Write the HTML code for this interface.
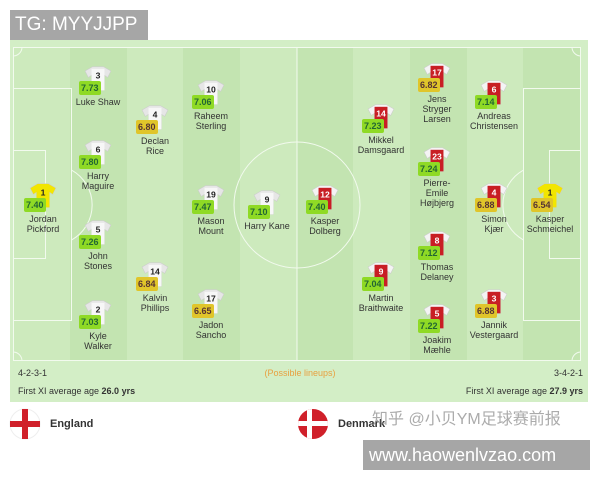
<!DOCTYPE html>
<html><head><meta charset="utf-8"><style>
body{margin:0;width:600px;height:480px;background:#fff;position:relative;overflow:hidden;font-family:"Liberation Sans","Noto Sans CJK SC",sans-serif}
.a{position:absolute}
.tg{left:10px;top:10px;width:138px;height:30px;background:#a6a6a6;color:#fff;font-size:19px;line-height:30px;padding-left:5px;box-sizing:border-box}
.field{left:10px;top:40px;width:578px;height:362px;background:#d3eec6}
.st{top:47px;height:314px;width:57px}
.p{position:absolute;width:80px;text-align:center}
.sh{position:absolute}
.r{position:absolute;font-size:9px;font-weight:bold;color:#263;padding:0 2px;height:14px;line-height:14px;border-radius:2px;background:#8fda25}
.r.y{background:#e0c52a;color:#533}
.n{position:absolute;width:90px;text-align:center;font-size:9px;line-height:10px;color:#333}
.txt{font-size:9px;color:#333}
</style></head><body>
<div class="a tg">TG: MYYJJPP</div>
<div class="a field"></div>
<div class="a st" style="left:13px;background:#cdeabd"></div>
<div class="a st" style="left:70px;background:#c3e4b1"></div>
<div class="a st" style="left:127px;background:#cdeabd"></div>
<div class="a st" style="left:183px;background:#c3e4b1"></div>
<div class="a st" style="left:240px;background:#cdeabd"></div>
<div class="a st" style="left:297px;background:#c3e4b1"></div>
<div class="a st" style="left:353px;background:#cdeabd"></div>
<div class="a st" style="left:410px;background:#c3e4b1"></div>
<div class="a st" style="left:467px;background:#cdeabd"></div>
<div class="a st" style="left:523px;background:#c3e4b1;width:57px"></div>
<svg class="a" style="left:0;top:0" width="600" height="480">
<g fill="none" stroke="#f2faee" stroke-width="1">
<rect x="13.5" y="47.5" width="567" height="313"/>
<line x1="297" y1="47" x2="297" y2="361"/>
<circle cx="297" cy="205" r="63"/>
<rect x="13.5" y="88.5" width="58" height="232"/>
<rect x="13.5" y="150.5" width="32" height="108"/>
<rect x="523.5" y="88.5" width="57" height="232"/>
<rect x="549.5" y="150.5" width="31" height="108"/>
<path d="M71.5 170 A40 40 0 0 1 71.5 240"/>
<path d="M523.5 170 A40 40 0 0 0 523.5 240"/>
<path d="M13.5 56 A9 9 0 0 0 22 47.5"/>
<path d="M572 47.5 A9 9 0 0 0 580.5 56"/>
<path d="M13.5 352 A9 9 0 0 1 22 360.5"/>
<path d="M572 360.5 A9 9 0 0 1 580.5 352"/>
</g>
</svg>
<div id="pl"></div>
<div class="a txt" style="left:18px;top:368px">4-2-3-1</div>
<div class="a" style="left:200px;width:200px;top:368px;text-align:center;font-size:9px;color:#e8a040">(Possible lineups)</div>
<div class="a txt" style="left:540px;width:43px;text-align:right;top:368px">3-4-2-1</div>
<div class="a txt" style="left:18px;top:386px">First XI average age <b>26.0 yrs</b></div>
<div class="a txt" style="left:420px;width:163px;text-align:right;top:386px">First XI average age <b>27.9 yrs</b></div>
<svg class="a" style="left:0;top:0" width="600" height="480">
<circle cx="25" cy="424" r="15" fill="#fff" stroke="#eee"/>
<rect x="10" y="421" width="30" height="6" fill="#d0202a"/><rect x="22" y="409" width="6" height="30" fill="#d0202a"/>
<clipPath id="dk"><circle cx="313" cy="424" r="15"/></clipPath>
<g clip-path="url(#dk)"><rect x="298" y="409" width="30" height="30" fill="#d0202a"/><rect x="298" y="421" width="30" height="5" fill="#fff"/><rect x="307" y="409" width="5" height="30" fill="#fff"/></g>
</svg>
<div class="a" style="left:50px;top:418px;font-size:11px;font-weight:bold;color:#333">England</div>
<div class="a" style="left:338px;top:418px;font-size:11px;font-weight:bold;color:#333">Denmark</div>
<div class="a" style="left:372px;top:405px;font-size:16px;color:rgba(150,150,150,0.8)">知乎 @小贝YM足球赛前报</div>
<div class="a" style="left:363px;top:440px;width:227px;height:30px;background:#a6a6a6;color:#fff;font-size:18px;line-height:30px;padding-left:6px;box-sizing:border-box">www.haowenlvzao.com</div>
<script>
var P=[
[43,183,'1',"7.40",0,"Jordan<br>Pickford",'w','gk'],
[98,66,'3',"7.73",0,"Luke Shaw",'w'],
[98,140,'6',"7.80",0,"Harry<br>Maguire",'w'],
[98,220,'5',"7.26",0,"John<br>Stones",'w'],
[98,300,'2',"7.03",0,"Kyle<br>Walker",'w'],
[155,105,'4',"6.80",1,"Declan<br>Rice",'w'],
[155,262,'14',"6.84",1,"Kalvin<br>Phillips",'w'],
[211,80,'10',"7.06",0,"Raheem<br>Sterling",'w'],
[211,185,'19',"7.47",0,"Mason<br>Mount",'w'],
[211,289,'17',"6.65",1,"Jadon<br>Sancho",'w'],
[267,190,'9',"7.10",0,"Harry Kane",'w'],
[325,185,'12',"7.40",0,"Kasper<br>Dolberg",'r'],
[381,104,'14',"7.23",0,"Mikkel<br>Damsgaard",'r'],
[381,262,'9',"7.04",0,"Martin<br>Braithwaite",'r'],
[437,63,'17',"6.82",1,"Jens<br>Stryger<br>Larsen",'r'],
[437,147,'23',"7.24",0,"Pierre-<br>Emile<br>Højbjerg",'r'],
[437,231,'8',"7.12",0,"Thomas<br>Delaney",'r'],
[437,304,'5',"7.22",0,"Joakim<br>Mæhle",'r'],
[494,80,'6',"7.14",0,"Andreas<br>Christensen",'r'],
[494,183,'4',"6.88",1,"Simon<br>Kjær",'r'],
[494,289,'3',"6.88",1,"Jannik<br>Vestergaard",'r'],
[550,183,'1',"6.54",1,"Kasper<br>Schmeichel",'r','gk']];
var h='';
P.forEach(function(p){var x=p[0],y=p[1];
var body=p[7]?'#f2e600':(p[6]=='w'?'#f7f7f7':'#c81e24');var sl=p[7]?'#f2e600':(p[6]=='w'?'#e6e6e6':'#f4f4f4');var nc=p[6]=='w'||p[7]?'#222':'#fff';
h+='<svg class="sh" style="left:'+(x-14)+'px;top:'+(y-1)+'px" width="28" height="27" viewBox="0 0 26 24"><path d="M1 5 L8 1 L18 1 L25 5 L22 11 L19 9 L19 23 L7 23 L7 9 L4 11 Z" fill="'+sl+'" stroke="#ccc" stroke-width=".5"/><rect x="7" y="3" width="12" height="20" fill="'+body+'"/><text x="13" y="12" font-size="8" font-weight="bold" text-anchor="middle" fill="'+nc+'" font-family="Liberation Sans">'+p[2]+'</text></svg>';
h+='<div class="r'+(p[4]?' y':'')+'" style="left:'+(x-19)+'px;top:'+(y+15)+'px">'+p[3]+'</div>';
h+='<div class="n" style="left:'+(x-45)+'px;top:'+(y+31)+'px">'+p[5]+'</div>';});
document.getElementById('pl').innerHTML=h;
</script>
</body></html>
